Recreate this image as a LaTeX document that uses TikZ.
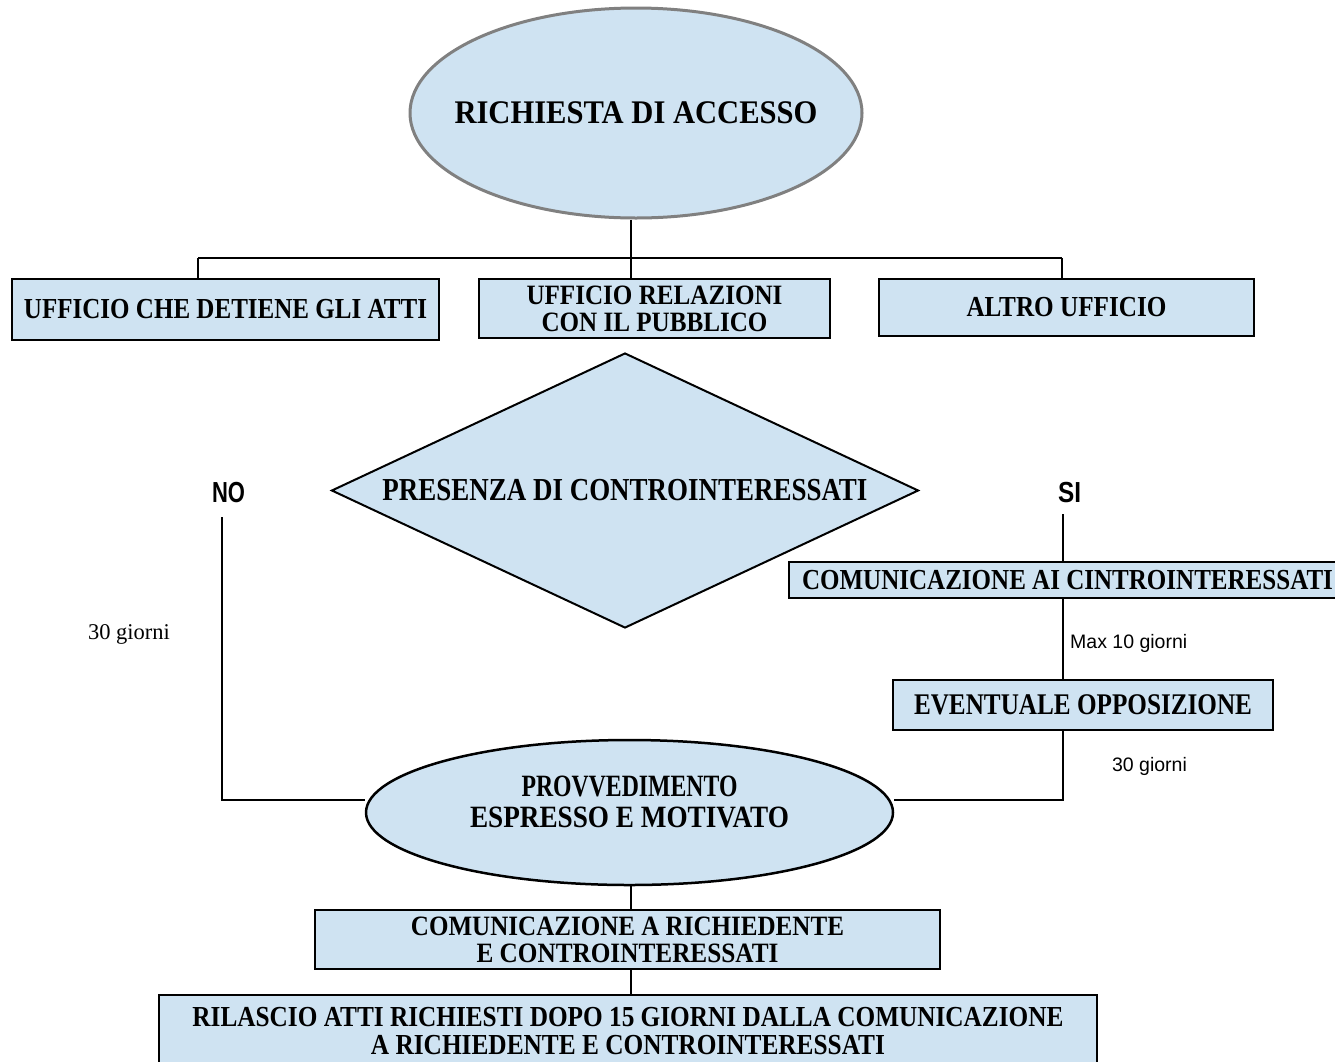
\documentclass[tikz,border=0pt]{standalone}
\usepackage{fontspec}
\setmainfont{Liberation Serif}
\newfontfamily\arialf{Liberation Sans}
\usetikzlibrary{shapes.geometric,backgrounds}
\definecolor{boxblue}{RGB}{207,227,242}
\definecolor{ellgray}{RGB}{128,128,128}
\newcommand{\fw}[2]{\resizebox{#1pt}{\height}{#2}}
\newcommand{\fs}[2]{\fontsize{#1}{#2}\selectfont}
\begin{document}
\begin{tikzpicture}[x=1pt,y=-1pt,
  box/.style={draw=black,line width=2pt,fill=boxblue,inner sep=0pt,align=center},
  ellbox/.style={shape=ellipse,fill=boxblue,inner sep=0pt,align=center},
  conn/.style={draw=black,line width=1.3pt},
  lbl/.style={inner sep=0pt,align=center}]
\useasboundingbox (0,0) rectangle (1335,1061);
\clip (0,0) rectangle (1335,1061);
% title
\node[ellbox,draw=ellgray,line width=3pt,minimum width=452pt,minimum height=210pt,font=\bfseries\fs{33}{33}] (title) at (636,113)
  {\makebox[0pt][c]{\fw{363}{RICHIESTA DI ACCESSO}}};
% offices
\node[box,minimum width=427pt,minimum height=61pt,font=\bfseries\fs{29}{27}] (b1) at (225.5,309.5)
  {\fw{403}{UFFICIO CHE DETIENE GLI ATTI}};
\node[box,minimum width=351pt,minimum height=59pt,font=\bfseries\fs{28}{27}] (b2) at (654.5,308.5)
  {\fw{256}{UFFICIO RELAZIONI}\\\fw{226}{CON IL PUBBLICO}};
\node[box,minimum width=375pt,minimum height=57pt,font=\bfseries\fs{29}{27}] (b3) at (1066.5,307.5)
  {\fw{200}{ALTRO UFFICIO}};
% decision
\node[box,shape=diamond,aspect=2.13,minimum width=587pt,minimum height=275pt,font=\bfseries\fs{32}{32}] (dia) at (625,490.5)
  {\fw{485}{PRESENZA DI CONTROINTERESSATI}};
\node[lbl,font=\arialf\bfseries\fs{29}{29}] (no) at (228.5,493) {\fw{33}{NO}};
\node[lbl,font=\arialf\bfseries\fs{29}{29}] (si) at (1069.5,493) {\fw{23}{SI}};
% right branch
\node[box,minimum width=557pt,minimum height=36pt,font=\bfseries\fs{29}{29}] (c1) at (1067.5,580)
  {\fw{531}{COMUNICAZIONE AI CINTROINTERESSATI}};
\node[box,minimum width=380pt,minimum height=50pt,font=\bfseries\fs{30}{30}] (ev) at (1083,705)
  {\fw{338}{EVENTUALE OPPOSIZIONE}};
\node[lbl,font=\arialf\fs{19.5}{20},anchor=west] (max10) at (1070,643) {Max 10 giorni};
\node[lbl,font=\arialf\fs{19.5}{20}] (g30r) at (1149.5,766) {30 giorni};
\node[lbl,font=\fs{22.5}{23}] (g30l) at (129,634) {30 giorni};
% provvedimento
\node[ellbox,draw=black,line width=2.5pt,minimum width=527pt,minimum height=145pt] (prov) at (629.5,812.5) {};
\node[lbl,font=\bfseries\fs{31}{31}] (provt) at (629.5,802)
  {\fw{216}{PROVVEDIMENTO}\\\fw{319}{ESPRESSO E MOTIVATO}};
% bottom
\node[box,minimum width=625pt,minimum height=59pt,font=\bfseries\fs{28}{27}] (cr) at (627.5,939.5)
  {\fw{433}{COMUNICAZIONE A RICHIEDENTE}\\\fw{302}{E CONTROINTERESSATI}};
\node[box,minimum width=938pt,minimum height=72pt,font=\bfseries\fs{29}{28}] (ril) at (628,1031)
  {\fw{871}{RILASCIO ATTI RICHIESTI DOPO 15 GIORNI DALLA COMUNICAZIONE}\\\fw{514}{A RICHIEDENTE E CONTROINTERESSATI}};
% connectors
\coordinate (j) at (631,258);
\coordinate (d1) at (198,258);
\coordinate (d3) at (1062,258);
\coordinate (nx) at (222,800);
\coordinate (sx) at (1063,800);
\begin{scope}[on background layer]
\draw[conn] (j |- title.south) -- (j);
\draw[conn] (d1) -- (d3);
\draw[conn] (d1) -- (d1 |- b1.north);
\draw[conn] (j) -- (j |- b2.north);
\draw[conn] (d3) -- (d3 |- b3.north);
\draw[conn] ([yshift=-14pt]no.south -| nx) -- (nx) -- (prov.west |- nx);
\draw[conn] ([yshift=-11pt]si.south -| sx) -- (sx |- c1.north);
\draw[conn] (c1.south -| sx) -- (sx |- ev.north);
\draw[conn] (ev.south -| sx) -- (sx) -- (prov.east |- sx);
\draw[conn] (j |- prov.south) -- (j |- cr.north);
\draw[conn] (j |- cr.south) -- (j |- ril.north);
\end{scope}
\end{tikzpicture}
\end{document}
